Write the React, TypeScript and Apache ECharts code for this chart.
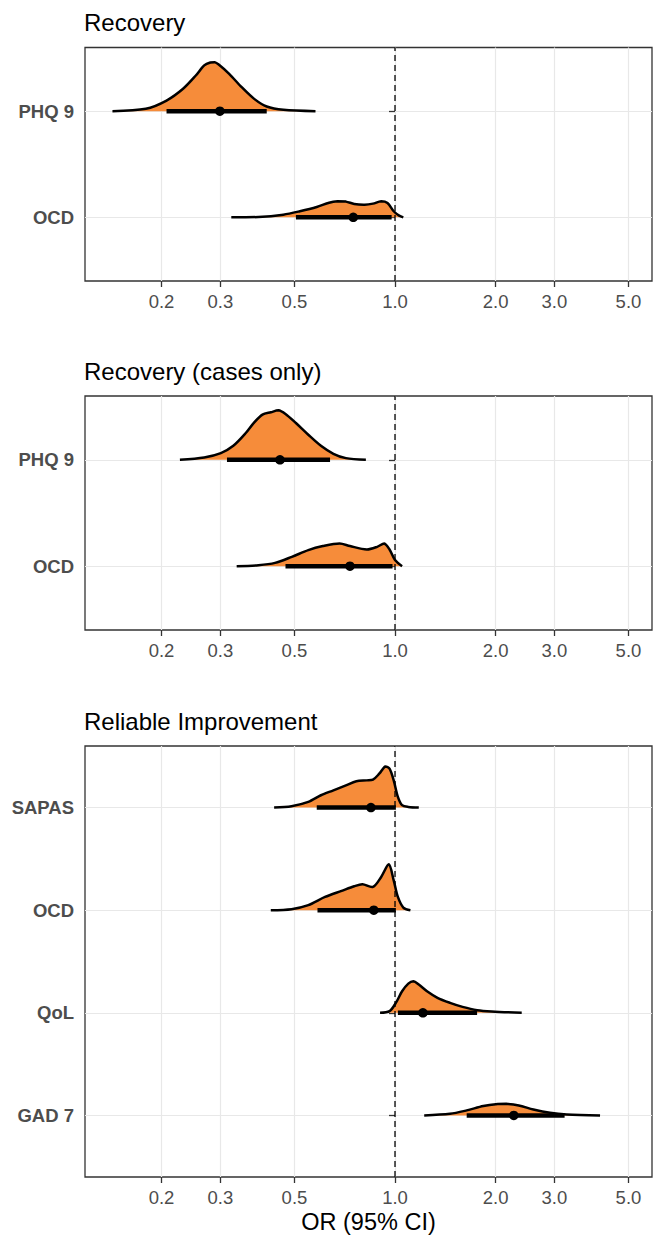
import React, { useEffect, useRef } from "react";
import * as echarts from "echarts";

// ---------- data ----------
const X_TICKS = [0.2, 0.3, 0.5, 1, 2, 3, 5];
const X_MIN = 0.118;
const X_MAX = 5.88;
const REF_OR = 1;

// Panel 1: Recovery
const recCats = ["OCD", "PHQ 9"];
const recPhqX = [0.1426, 0.1795, 0.207, 0.232, 0.2533, 0.2684, 0.28, 0.2884, 0.2966, 0.3188, 0.3475, 0.3788, 0.413, 0.4634, 0.578];
const recPhqD = [0, 0.022, 0.1, 0.211, 0.336, 0.431, 0.459, 0.462, 0.44, 0.352, 0.226, 0.116, 0.044, 0.013, 0];
const recPhqPoint = 0.299;
const recPhqCI = [0.207, 0.413];
const recOcdX = [0.3235, 0.39, 0.463, 0.519, 0.583, 0.635, 0.673, 0.713, 0.755, 0.811, 0.859, 0.909, 0.9495, 0.991, 1.029, 1.059];
const recOcdD = [0, 0.003, 0.025, 0.057, 0.097, 0.138, 0.151, 0.148, 0.126, 0.119, 0.129, 0.151, 0.135, 0.057, 0.016, 0];
const recOcdPoint = 0.75;
const recOcdCI = [0.505, 0.977];

// Panel 2: Recovery (cases only)
const casCats = ["OCD", "PHQ 9"];
const casPhqX = [0.227, 0.2684, 0.301, 0.328, 0.3575, 0.379, 0.401, 0.425, 0.4475, 0.47, 0.505, 0.55, 0.6, 0.654, 0.713, 0.818];
const casPhqD = [0, 0.022, 0.063, 0.132, 0.252, 0.352, 0.425, 0.447, 0.465, 0.431, 0.346, 0.236, 0.132, 0.057, 0.016, 0];
const casPhqPoint = 0.4525;
const casPhqCI = [0.314, 0.639];
const casOcdX = [0.3357, 0.39, 0.4374, 0.491, 0.55, 0.608, 0.6825, 0.733, 0.823, 0.884, 0.928, 0.963, 1.0, 1.05];
const casOcdD = [0, 0.009, 0.031, 0.088, 0.151, 0.189, 0.214, 0.189, 0.157, 0.182, 0.214, 0.157, 0.057, 0];
const casOcdPoint = 0.733;
const casOcdCI = [0.47, 0.983];

// Panel 3: Reliable Improvement
const riCats = ["GAD 7", "QoL", "OCD", "SAPAS"];
const riSapasX = [0.4346, 0.49, 0.55, 0.6, 0.654, 0.713, 0.766, 0.823, 0.859, 0.897, 0.936, 0.963, 0.991, 1.02, 1.05, 1.096, 1.178];
const riSapasD = [0, 0.013, 0.055, 0.12, 0.168, 0.217, 0.256, 0.265, 0.272, 0.33, 0.401, 0.379, 0.265, 0.104, 0.023, 0.006, 0];
const riSapasPoint = 0.847;
const riSapasCI = [0.583, 1.006];
const riOcdX = [0.4247, 0.49, 0.55, 0.6173, 0.692, 0.7548, 0.799, 0.859, 0.909, 0.958, 0.991, 1.02, 1.059, 1.112];
const riOcdD = [0, 0.01, 0.049, 0.129, 0.188, 0.233, 0.252, 0.227, 0.324, 0.447, 0.291, 0.129, 0.026, 0];
const riOcdPoint = 0.864;
const riOcdCI = [0.586, 1.006];
const riQolX = [0.902, 0.963, 1.006, 1.05, 1.096, 1.135, 1.178, 1.247, 1.34, 1.461, 1.593, 1.761, 1.947, 2.395];
const riQolD = [0, 0.016, 0.097, 0.21, 0.285, 0.307, 0.275, 0.21, 0.146, 0.097, 0.058, 0.026, 0.013, 0];
const riQolPoint = 1.212;
const riQolCI = [1.02, 1.761];
const riGadX = [1.223, 1.461, 1.639, 1.838, 2.004, 2.153, 2.347, 2.596, 2.911, 3.266, 4.11];
const riGadD = [0, 0.016, 0.049, 0.091, 0.11, 0.113, 0.097, 0.058, 0.026, 0.01, 0];
const riGadPoint = 2.268;
const riGadCI = [1.639, 3.219];

type Dist = { cat: string; xs: number[]; ds: number[]; point: number; ci: number[] };
type Panel = { title: string; cats: string[]; dists: Dist[] };

const PANELS: Panel[] = [
  {
    title: "Recovery",
    cats: recCats,
    dists: [
      { cat: "PHQ 9", xs: recPhqX, ds: recPhqD, point: recPhqPoint, ci: recPhqCI },
      { cat: "OCD", xs: recOcdX, ds: recOcdD, point: recOcdPoint, ci: recOcdCI },
    ],
  },
  {
    title: "Recovery (cases only)",
    cats: casCats,
    dists: [
      { cat: "PHQ 9", xs: casPhqX, ds: casPhqD, point: casPhqPoint, ci: casPhqCI },
      { cat: "OCD", xs: casOcdX, ds: casOcdD, point: casOcdPoint, ci: casOcdCI },
    ],
  },
  {
    title: "Reliable Improvement",
    cats: riCats,
    dists: [
      { cat: "SAPAS", xs: riSapasX, ds: riSapasD, point: riSapasPoint, ci: riSapasCI },
      { cat: "OCD", xs: riOcdX, ds: riOcdD, point: riOcdPoint, ci: riOcdCI },
      { cat: "QoL", xs: riQolX, ds: riQolD, point: riQolPoint, ci: riQolCI },
      { cat: "GAD 7", xs: riGadX, ds: riGadD, point: riGadPoint, ci: riGadCI },
    ],
  },
];

// ---------- layout / style ----------
const LAYOUT = [
  { top: 47.5, height: 233.5, titleTop: 10 },
  { top: 396, height: 234, titleTop: 359 },
  { top: 746, height: 433, titleTop: 709 },
];
const GRID_LEFT = 85;
const GRID_WIDTH = 567;
const FONT = "'Liberation Sans', Arial, Helvetica, sans-serif";
const ORANGE = "#F68C3A";

// x scale is logarithmic: positions are handled in log10 units on a value axis
const lg = (v: number) => Math.log10(v);
const fmtOR = (v: number) => Math.pow(10, v).toFixed(1);

function bbox(pts: number[][]) {
  let x0 = Infinity, y0 = Infinity, x1 = -Infinity, y1 = -Infinity;
  pts.forEach((p) => {
    x0 = Math.min(x0, p[0]);
    y0 = Math.min(y0, p[1]);
    x1 = Math.max(x1, p[0]);
    y1 = Math.max(y1, p[1]);
  });
  return [[x0, y0], [x1, y1]];
}

function buildOption() {
  const grid: any[] = [];
  const xAxis: any[] = [];
  const yAxis: any[] = [];
  const series: any[] = [];
  const title: any[] = [];
  const xTickPos = X_TICKS.map(lg);

  PANELS.forEach((panel, i) => {
    const L = LAYOUT[i];
    const n = panel.cats.length;
    const catVals = panel.cats.map((_, k) => k + 1);
    grid.push({
      left: GRID_LEFT,
      top: L.top,
      width: GRID_WIDTH,
      height: L.height,
      show: true,
      borderColor: "#333333",
      borderWidth: 1.3,
      backgroundColor: "#ffffff",
    });
    title.push({
      text: panel.title,
      left: GRID_LEFT - 1,
      top: L.titleTop,
      padding: 0,
      textStyle: { fontFamily: FONT, fontSize: 24, fontWeight: "normal", color: "#000000" },
    });
    const isLast = i === PANELS.length - 1;
    xAxis.push({
      type: "value",
      gridIndex: i,
      min: lg(X_MIN),
      max: lg(X_MAX),
      axisLine: { show: false },
      axisTick: {
        show: true,
        customValues: xTickPos,
        length: 6,
        lineStyle: { color: "#333333", width: 1.3 },
      },
      axisLabel: {
        customValues: xTickPos,
        formatter: (v: number) => fmtOR(v),
        color: "#4d4d4d",
        fontSize: 18.5,
        fontFamily: FONT,
        margin: 11,
      },
      splitLine: { show: true, lineStyle: { color: "#e8e8e8", width: 1.2 } },
      name: isLast ? "OR (95% CI)" : "",
      nameLocation: "middle",
      nameGap: 33,
      nameTextStyle: { fontFamily: FONT, fontSize: 23.5, color: "#000000" },
    });
    yAxis.push({
      type: "value",
      gridIndex: i,
      min: 0.4,
      max: n + 0.6,
      axisLine: { show: false },
      axisTick: {
        show: true,
        customValues: catVals,
        length: 6,
        lineStyle: { color: "#333333", width: 1.3 },
      },
      axisLabel: {
        customValues: catVals,
        formatter: (v: number) => panel.cats[Math.round(v) - 1] || "",
        color: "#4d4d4d",
        fontWeight: "bold",
        fontSize: 18.5,
        fontFamily: FONT,
        margin: 11,
      },
      splitLine: { show: true, lineStyle: { color: "#e8e8e8", width: 1.2 } },
    });

    series.push({
      type: "custom",
      xAxisIndex: i,
      yAxisIndex: i,
      z: 3,
      data: panel.dists.map((d) => [lg(d.point), panel.cats.indexOf(d.cat) + 1]),
      renderItem: (params: any, api: any) => {
        const d = panel.dists[params.dataIndex];
        const base = panel.cats.indexOf(d.cat) + 1;
        const pts = d.xs.map((x, k) => api.coord([lg(x), base + d.ds[k]]));
        const box = bbox(pts);
        const lo = api.coord([lg(d.ci[0]), base]);
        const hi = api.coord([lg(d.ci[1]), base]);
        const pt = api.coord([lg(d.point), base]);
        return {
          type: "group",
          children: [
            {
              type: "polygon",
              shape: { points: pts, smooth: 0.3, smoothConstraint: box },
              style: { fill: ORANGE, stroke: "none" },
            },
            {
              type: "polyline",
              shape: { points: pts, smooth: 0.3, smoothConstraint: box },
              style: { fill: "none", stroke: "#000000", lineWidth: 2.5, lineJoin: "round" },
            },
            {
              type: "line",
              shape: { x1: lo[0], y1: lo[1], x2: hi[0], y2: hi[1] },
              style: { stroke: "#000000", lineWidth: 4.5 },
            },
            {
              type: "circle",
              shape: { cx: pt[0], cy: pt[1], r: 4.8 },
              style: { fill: "#000000" },
            },
          ],
        };
      },
    });

    series.push({
      type: "line",
      xAxisIndex: i,
      yAxisIndex: i,
      z: 5,
      symbol: "none",
      silent: true,
      data: [
        [lg(REF_OR), 0.4],
        [lg(REF_OR), n + 0.6],
      ],
      lineStyle: { color: "#000000", width: 1.3, type: [6, 4] },
    });
  });

  return { animation: false, backgroundColor: "#ffffff", title, grid, xAxis, yAxis, series };
}

export default function App() {
  const ref = useRef<HTMLDivElement>(null);
  useEffect(() => {
    document.body.style.margin = "0";
    if (!ref.current) return;
    const chart = echarts.init(ref.current, undefined, { renderer: "svg" });
    chart.setOption(buildOption() as any);
    return () => chart.dispose();
  }, []);
  return <div ref={ref} style={{ width: 654, height: 1235 }} />;
}
